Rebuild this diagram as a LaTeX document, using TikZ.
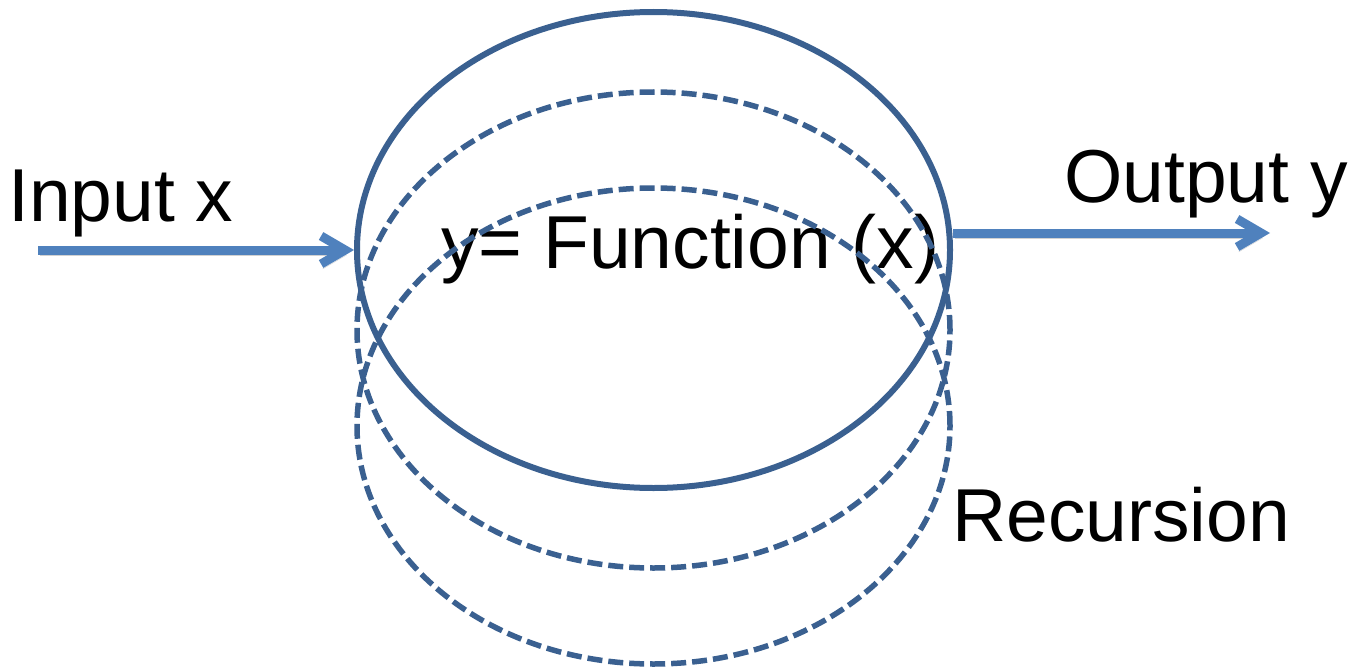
\documentclass[tikz,border=0pt]{standalone}
\usepackage{fontspec}
\setmainfont{Liberation Sans}
\usetikzlibrary{arrows.meta,shapes.geometric}

\definecolor{ringblue}{HTML}{3A6090}
\definecolor{flowblue}{HTML}{4F81BD}

\tikzset{
  ring/.style={ellipse, draw=ringblue, line width=6pt,
    minimum width=593pt, minimum height=476pt, inner sep=0pt},
  recring/.style={ring, line width=5.5pt, dash pattern=on 15pt off 6pt},
  flow/.style={draw=flowblue, line width=9pt,
    -{Straight Barb[length=24pt, width=28pt]},
    preaction={draw=black!60, opacity=0.3,
      transform canvas={shift={(1.5pt,-5pt)}}}},
  lbl/.style={inner sep=0pt, anchor=base west,
    font=\fontsize{75}{90}\selectfont}
}

\begin{document}
\begin{tikzpicture}[x=1pt, y=-1pt]

  \useasboundingbox (0,0) rectangle (1355,669);

  % Labels
  \node[lbl] (inlbl) at (8,221) {Input x};
  \node[lbl] (outlbl) at (1064,202) {Output y};
  \node[lbl] (fnlbl) at (441,268) {y= Function (x)};
  \node[lbl] (reclbl) at (952,541) {Recursion};

  % Function (solid ring)
  \node[ring] (func) at (653.5,250) {};

  % Recursion copies (dashed rings, lower)
  \node[recring] (rec1) at (653.5,330) {};
  \node[recring] (rec2) at (653.5,426) {};

  % Input and output
  \coordinate (in) at (38,250);
  \coordinate (out) at (1270,233);
  \draw[flow] (in) -- (func.west);
  \draw[flow] (func.east |- out) -- (out);

\end{tikzpicture}
\end{document}
